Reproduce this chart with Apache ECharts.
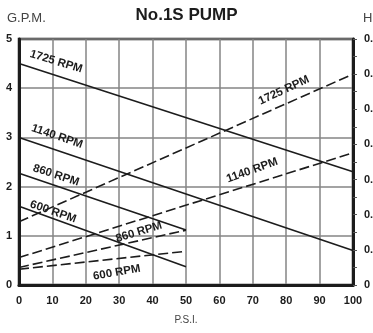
<!DOCTYPE html>
<html><head><meta charset="utf-8">
<script src="https://cdn.jsdelivr.net/npm/echarts@6/dist/echarts.min.js"></script>
<style>html,body{margin:0;padding:0;background:#fff}#c{width:373px;height:333px}</style>
</head><body><div id="c"></div>
<script>
// Pressure (P.S.I.) at the line end points
const psiFull = [0, 100];
const psiHalf = [0, 50];
// Capacity, G.P.M. (solid lines, left axis)
const gpm1725 = [4.5, 2.3];
const gpm1140 = [3.0, 0.7];
const gpm860 = [2.27, 1.12];
const gpm600 = [1.6, 0.37];
// Horsepower (dashed lines, right axis)
const hp1725 = [0.18, 0.6];
const hp1140 = [0.078, 0.376];
const hp860 = [0.05, 0.156];
const hp600 = [0.045, 0.096];
// Axis ticks
const gpmTicks = [0, 1, 2, 3, 4, 5];
const hpTicks = [0, 0.1, 0.2, 0.3, 0.4, 0.5, 0.6, 0.7];
const psiTicks = [0, 10, 20, 30, 40, 50, 60, 70, 80, 90, 100];

const FONT = '"Liberation Sans", Arial, Helvetica, sans-serif';
const INK = '#1c1c1c';

function pairs(xs, ys) { return xs.map((x, i) => [x, ys[i]]); }

function tag(text, coord, rot) {
  return {
    symbol: 'circle', symbolSize: 2, itemStyle: { color: 'rgba(0,0,0,0)' },
    silent: true, animation: false,
    data: [{ coord: coord, value: 1 }],
    label: { show: true, position: 'inside', formatter: text, rotate: rot,
      color: INK, fontFamily: FONT, fontWeight: 'bold', fontSize: 11.5 }
  };
}

function solid(name, ys, xs, lab) {
  return { name: name, type: 'line', yAxisIndex: 0, data: pairs(xs, ys),
    symbol: 'none', silent: true, animation: false,
    lineStyle: { color: INK, width: 1.6 }, markPoint: lab };
}
function dashed(name, ys, xs, lab) {
  return { name: name, type: 'line', yAxisIndex: 1, data: pairs(xs, ys),
    symbol: 'none', silent: true, animation: false,
    lineStyle: { color: INK, width: 1.6, type: [10, 4] }, markPoint: lab };
}

const chart = echarts.init(document.getElementById('c'), null, { renderer: 'canvas' });
chart.setOption({
  animation: false,
  backgroundColor: '#fff',
  title: { text: 'No.1S PUMP', left: 'center', top: 2,
    textStyle: { fontFamily: FONT, fontWeight: 'bold', fontSize: 17, color: INK } },
  graphic: [
    { type: 'text', left: 7, top: 12, style: { text: 'G.P.M.', font: '13px ' + FONT, fill: '#444' } },
    { type: 'text', left: 363, top: 12, style: { text: 'H.P.', font: '13px ' + FONT, fill: '#444' } }
  ],
  grid: { left: 19, right: 20, top: 39, bottom: 48, show: true, containLabel: false,
    outerBoundsMode: 'none',
    borderColor: INK, borderWidth: 2.5, backgroundColor: 'transparent' },
  xAxis: {
    type: 'value', min: psiTicks[0], max: psiTicks[psiTicks.length - 1], interval: 10,
    name: 'P.S.I.', nameLocation: 'middle', nameGap: 30,
    nameTextStyle: { fontFamily: FONT, fontSize: 10, color: '#444' },
    axisLine: { show: true, lineStyle: { color: INK, width: 3 } },
    axisTick: { show: false },
    axisLabel: { margin: 10, fontFamily: FONT, fontWeight: 'bold', fontSize: 11, color: INK },
    splitLine: { show: true, lineStyle: { color: '#858585', width: 1.5 } }
  },
  yAxis: [
    { type: 'value', min: gpmTicks[0], max: gpmTicks[gpmTicks.length - 1], interval: 1,
      axisLine: { show: true, lineStyle: { color: INK, width: 3 } },
      axisTick: { show: false },
      axisLabel: { margin: 7, fontFamily: FONT, fontWeight: 'bold', fontSize: 11, color: INK },
      splitLine: { show: true, lineStyle: { color: '#858585', width: 1.5 } } },
    { type: 'value', position: 'right', min: hpTicks[0], max: hpTicks[hpTicks.length - 1], interval: 0.1,
      axisLine: { show: true, lineStyle: { color: INK, width: 3 } },
      axisTick: { show: true, inside: false, length: 4, lineStyle: { color: '#555', width: 1 } },
      minorTick: { show: true, splitNumber: 2, length: 4, lineStyle: { color: '#555', width: 1 } },
      axisLabel: { margin: 11, fontFamily: FONT, fontWeight: 'bold', fontSize: 11, color: INK,
        formatter: v => (v === 0 ? '0' : v.toFixed(1)) },
      splitLine: { show: false } }
  ],
  series: [
    solid('1725 RPM GPM', gpm1725, psiFull, tag('1725 RPM', [11.1, 4.54], -17)),
    solid('1140 RPM GPM', gpm1140, psiFull, tag('1140 RPM', [11.4, 3.02], -19)),
    solid('860 RPM GPM', gpm860, psiHalf, tag('860 RPM', [11.1, 2.23], -18)),
    solid('600 RPM GPM', gpm600, psiHalf, tag('600 RPM', [10.2, 1.49], -19)),
    dashed('1725 RPM HP', hp1725, psiFull, tag('1725 RPM', [79.3, 3.955 * 0.14], 25)),
    dashed('1140 RPM HP', hp1140, psiFull, tag('1140 RPM', [69.8, 2.33 * 0.14], 20)),
    dashed('860 RPM HP', hp860, psiHalf, tag('860 RPM', [35.9, 1.075 * 0.14], 17)),
    dashed('600 RPM HP', hp600, psiHalf, tag('600 RPM', [29.3, 0.254 * 0.14], 10))
  ]
});
</script></body></html>
